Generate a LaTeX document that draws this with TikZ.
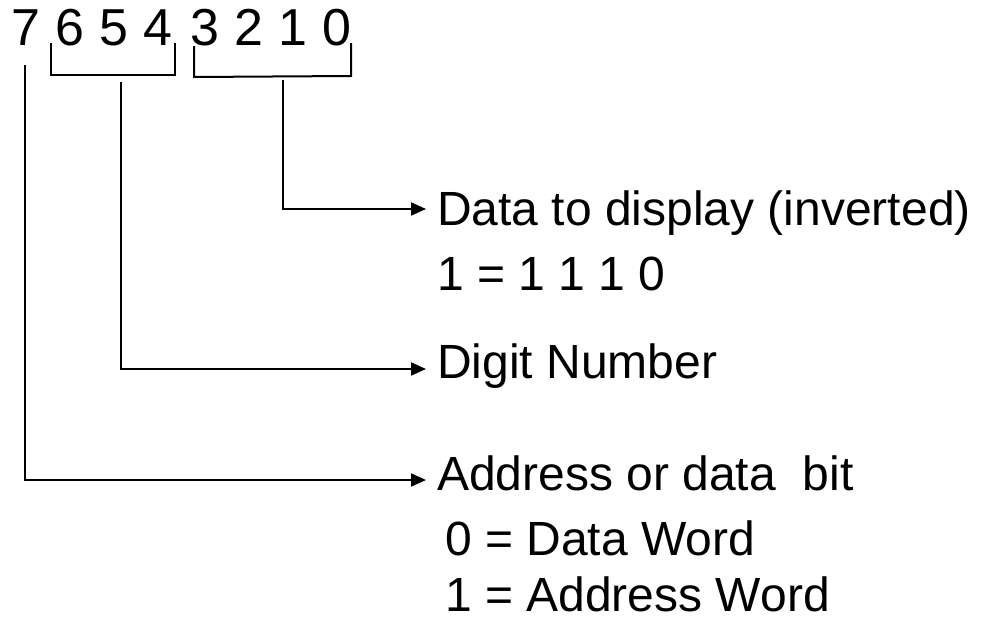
\documentclass[tikz,border=0pt]{standalone}
\usepackage{fontspec}
\setmainfont{Liberation Sans}
\usetikzlibrary{arrows.meta}
\begin{document}
\begin{tikzpicture}[x=1pt,y=-1pt,
  lbl/.style={anchor=base west,inner sep=0pt,font=\fontsize{48}{56}\selectfont},
  dig/.style={anchor=base west,inner sep=0pt,font=\fontsize{52}{58}\selectfont},
  ln/.style={line width=2pt},
  arr/.style={line width=2pt,-{Triangle[length=15pt,width=13pt]}}]
\useasboundingbox (0,0) rectangle (981,621);
% digits
\node[dig] (d7) at (11,45) {7};
\node[dig] (d6) at (55,45) {6};
\node[dig] (d5) at (99,45) {5};
\node[dig] (d4) at (143,45) {4};
\node[dig] (d3) at (190,45) {3};
\node[dig] (d2) at (234,45) {2};
\node[dig] (d1) at (278,45) {1};
\node[dig] (d0) at (322,45) {0};
% brackets
\coordinate (b1l) at (51,43);
\coordinate (b1r) at (175,43);
\coordinate (b2l) at (194,46);
\coordinate (b2r) at (351,43);
\draw[ln] (b1l) -- (51,75) -- (175,75) -- (b1r);
\draw[ln] (b2l) -- (194,77) -- (351,76) -- (b2r);
% labels
\node[lbl] (t1) at (437,225) {Data to display (inverted)};
\node[lbl] (t1b) at (437,290) {1 = 1 1 1 0};
\node[lbl] (t2) at (437,378) {Digit Number};
\node[lbl] (t3) at (437,490) {Address or data\ \ bit};
\node[lbl] (t3a) at (445,555) {0 = Data Word};
\node[lbl] (t3b) at (445,611) {1 = Address Word};
% connectors
\coordinate (c7) at (25,65);
\coordinate (c654) at (121,82);
\coordinate (c3210) at (283,80);
\coordinate (a1) at (426,209);
\coordinate (a2) at (426,369);
\coordinate (a3) at (426,480);
\draw[arr] (c3210) |- (a1);
\draw[arr] (c654) |- (a2);
\draw[arr] (c7) |- (a3);
\end{tikzpicture}
\end{document}
